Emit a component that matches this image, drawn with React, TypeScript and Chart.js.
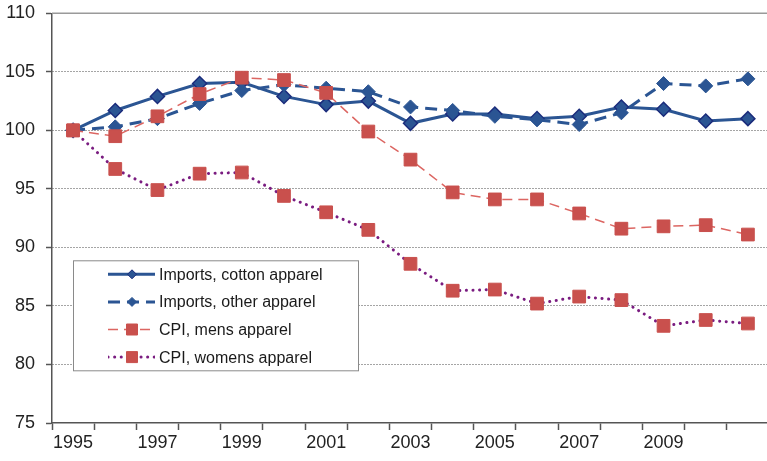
import React, { useEffect, useRef } from 'react';
import { Chart, registerables } from 'chart.js';

Chart.register(...registerables);

// Index values, 1995 = 100
const years = [
  '1995', '1996', '1997', '1998', '1999', '2000', '2001', '2002', '2003',
  '2004', '2005', '2006', '2007', '2008', '2009', '2010', '2011',
];
const xTickLabels = ['1995', '1997', '1999', '2001', '2003', '2005', '2007', '2009'];

const cottonImports = [100, 101.7, 102.9, 104.0, 104.1, 102.9, 102.2, 102.5, 100.6, 101.4, 101.4, 101.0, 101.2, 102.0, 101.8, 100.8, 101.0];
const otherImports = [100, 100.3, 101.0, 102.3, 103.4, 103.9, 103.6, 103.3, 102.0, 101.7, 101.2, 100.9, 100.5, 101.5, 104.0, 103.8, 104.4];
const cpiMens = [100, 99.5, 101.2, 103.1, 104.5, 104.3, 103.2, 99.9, 97.5, 94.7, 94.1, 94.1, 92.9, 91.6, 91.8, 91.9, 91.1];
const cpiWomens = [100, 96.7, 94.9, 96.3, 96.4, 94.4, 93.0, 91.5, 88.6, 86.3, 86.4, 85.2, 85.8, 85.5, 83.3, 83.8, 83.5];

const yMin = 75;
const yMax = 110;
const yStep = 5;

const FONT = '"Liberation Sans", Arial, sans-serif';
const BLUE = '#2B5593';
const NAVY = '#1B2C7C';
const RED = '#C9504D';
const RED_LINE = '#DC6662';
const PURPLE = '#7A1C80';
const AXIS = '#555555';

// Plot-area frame (top / right edges) drawn in solid grey
const frame = {
  id: 'plotFrame',
  beforeDatasetsDraw(chart: any) {
    const { ctx, chartArea: a } = chart;
    ctx.save();
    ctx.strokeStyle = '#9a9a9a';
    ctx.lineWidth = 1.5;
    ctx.beginPath();
    ctx.moveTo(a.left, a.top);
    ctx.lineTo(a.right, a.top);
    ctx.lineTo(a.right, a.bottom);
    ctx.stroke();
    ctx.restore();
  },
};

function drawMarker(ctx: CanvasRenderingContext2D, style: string, x: number, y: number, r: number, fill: string, stroke: string) {
  ctx.save();
  ctx.setLineDash([]);
  ctx.fillStyle = fill;
  ctx.strokeStyle = stroke;
  ctx.lineWidth = 1;
  ctx.beginPath();
  if (style === 'rectRot') {
    ctx.moveTo(x, y - r);
    ctx.lineTo(x + r, y);
    ctx.lineTo(x, y + r);
    ctx.lineTo(x - r, y);
    ctx.closePath();
  } else {
    ctx.rect(x - r, y - r, 2 * r, 2 * r);
  }
  ctx.fill();
  ctx.stroke();
  ctx.restore();
}

// Boxed legend sitting inside the plot area
const insideLegend = {
  id: 'insideLegend',
  afterDraw(chart: any) {
    const { ctx, chartArea: a } = chart;
    const left = a.left + 21;
    const top = a.top + 247;
    const width = 285;
    const height = 110;
    ctx.save();
    ctx.fillStyle = '#ffffff';
    ctx.fillRect(left, top, width, height);
    ctx.strokeStyle = '#8a8a8a';
    ctx.lineWidth = 1;
    ctx.strokeRect(left + 0.5, top + 0.5, width, height);

    chart.data.datasets.forEach((ds: any, i: number) => {
      const y = top + 14 + i * 27.6;
      const x0 = left + 35;
      const x1 = left + 82;
      const mx = left + 59;
      ctx.save();
      ctx.beginPath();
      ctx.rect(x0, y - 5, x1 - x0, 10);
      ctx.clip();
      ctx.strokeStyle = ds.borderColor;
      ctx.lineWidth = ds.borderWidth;
      ctx.lineCap = ds.borderCapStyle || 'butt';
      ctx.setLineDash(ds.borderDash || []);
      ctx.beginPath();
      ctx.moveTo(x0, y);
      ctx.lineTo(x1, y);
      ctx.stroke();
      ctx.restore();
      if (ds.pointStyle === 'rectRot') {
        drawMarker(ctx, 'rectRot', mx, y, 4.5, ds.pointBackgroundColor, ds.pointBorderColor);
      } else {
        drawMarker(ctx, 'rect', mx, y, 5.5, ds.pointBackgroundColor, ds.pointBorderColor);
      }
      ctx.fillStyle = '#1a1a1a';
      ctx.font = `16px ${FONT}`;
      ctx.textAlign = 'left';
      ctx.textBaseline = 'middle';
      ctx.fillText(ds.label, left + 86, y + 1);
    });
    ctx.restore();
  },
};

export default function App() {
  const canvasRef = useRef<HTMLCanvasElement | null>(null);

  useEffect(() => {
    const canvas = canvasRef.current;
    if (!canvas) return;
    const chart = new Chart(canvas, {
      type: 'line',
      data: {
        labels: years,
        datasets: [
          {
            label: 'Imports, cotton apparel',
            data: cottonImports,
            borderColor: BLUE,
            borderWidth: 3,
            pointStyle: 'rectRot',
            pointRadius: 7,
            pointBackgroundColor: BLUE,
            pointBorderColor: NAVY,
            pointBorderWidth: 1.5,
            tension: 0,
            order: 3,
          },
          {
            label: 'Imports, other apparel',
            data: otherImports,
            borderColor: BLUE,
            borderWidth: 3,
            borderDash: [12, 7],
            pointStyle: 'rectRot',
            pointRadius: 7,
            pointBackgroundColor: BLUE,
            pointBorderColor: BLUE,
            pointBorderWidth: 1,
            tension: 0,
            order: 2,
          },
          {
            label: 'CPI, mens apparel',
            data: cpiMens,
            borderColor: RED_LINE,
            borderWidth: 1.5,
            borderDash: [10, 6],
            pointStyle: 'rect',
            pointRadius: 9,
            pointBackgroundColor: RED,
            pointBorderColor: RED,
            pointBorderWidth: 1,
            tension: 0,
            order: 1,
          },
          {
            label: 'CPI, womens apparel',
            data: cpiWomens,
            borderColor: PURPLE,
            borderWidth: 3,
            borderDash: [0.1, 6.5],
            borderCapStyle: 'round',
            pointStyle: 'rect',
            pointRadius: 9,
            pointBackgroundColor: RED,
            pointBorderColor: RED,
            pointBorderWidth: 1,
            tension: 0,
            order: 0,
          },
        ] as any,
      },
      options: {
        animation: false,
        responsive: false,
        layout: { autoPadding: false, padding: { top: 13.3, left: 0, right: 0, bottom: 0 } },
        plugins: {
          legend: { display: false },
          tooltip: { enabled: false },
        },
        scales: {
          x: {
            type: 'category',
            offset: true,
            grid: {
              offset: true,
              drawOnChartArea: false,
              drawTicks: true,
              tickLength: 7,
              tickColor: AXIS,
              tickWidth: 1.5,
            },
            border: { color: AXIS, width: 1.5 },
            ticks: {
              autoSkip: false,
              maxRotation: 0,
              minRotation: 0,
              padding: 2,
              color: '#222222',
              font: { family: FONT, size: 18 },
              callback: (_v: any, i: number) => (xTickLabels.includes(years[i]) ? years[i] : ''),
            },
            afterFit: (s: any) => {
              s.height = 38;
              s.paddingLeft = 0;
              s.paddingRight = 0;
            },
          },
          y: {
            min: yMin,
            max: yMax,
            ticks: {
              stepSize: yStep,
              padding: 11,
              color: '#222222',
              font: { family: FONT, size: 18 },
            },
            grid: {
              color: (ctx: any) =>
                ctx.tick && (ctx.tick.value === yMin || ctx.tick.value === yMax) ? 'rgba(0,0,0,0)' : '#4a4a4a',
              lineWidth: 1,
              tickColor: AXIS,
              tickLength: 6,
              tickWidth: 1.5,
            },
            border: { color: AXIS, width: 1.5, dash: [1, 2] },
            afterFit: (s: any) => {
              s.width = 52;
              s.paddingTop = 0;
              s.paddingBottom = 0;
            },
          },
        },
      },
      plugins: [frame, insideLegend],
    });
    return () => chart.destroy();
  }, []);

  return (
    <div style={{ position: 'fixed', left: 0, top: 0, width: 767, height: 461, overflow: 'hidden', background: '#ffffff' }}>
      <canvas ref={canvasRef} width={769} height={461} style={{ display: 'block' }} />
    </div>
  );
}
